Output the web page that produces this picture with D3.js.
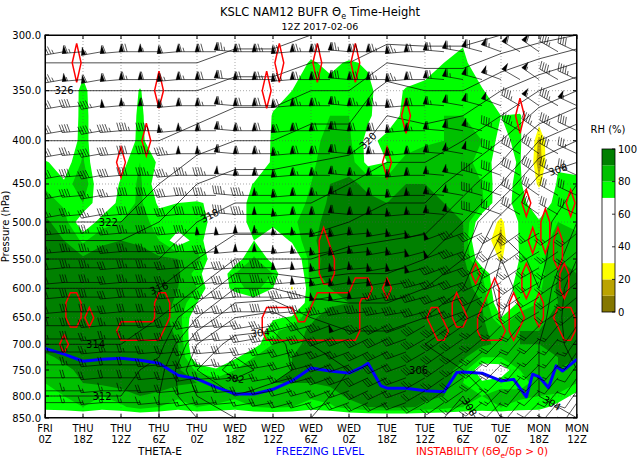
<!DOCTYPE html>
<html>
<head>
<meta charset="utf-8">
<script src="https://cdn.jsdelivr.net/npm/d3@7"></script>
<style>
  body { margin: 0; background: #fff; }
  svg text { font-family: "DejaVu Sans", sans-serif; }
</style>
</head>
<body>
<svg id="drawing_region"></svg>
<script>
// ---------------- data ----------------
const tickHours = [84, 78, 72, 66, 60, 54, 48, 42, 36, 30, 24, 18, 12, 6, 0];
const tickDays  = ["FRI","THU","THU","THU","THU","WED","WED","WED","WED","TUE","TUE","TUE","TUE","MON","MON"];
const tickZ     = ["0Z","18Z","12Z","6Z","0Z","18Z","12Z","6Z","0Z","18Z","12Z","6Z","0Z","18Z","12Z"];
const presTicks = [300, 350, 400, 450, 500, 550, 600, 650, 700, 750, 800, 850];
const rhTicks   = [0, 20, 40, 60, 80, 100];
const rhLevels  = [0, 10, 20, 30, 70, 80, 90, 100];

// RH (%) every 3 h (84 -> 0, left to right) and every 25 hPa (300 -> 850)
const rhRows = [
  [45,45,45,45,45,45,45,45,45,45,45,45,45,50,55,50,50,45,45,45,50,62,66,50,45,45,45,45,45],
  [45,45,62,45,45,50,45,45,45,45,45,45,50,60,72,66,72,68,55,55,60,70,75,55,45,45,45,45,45],
  [45,50,76,50,45,72,45,45,45,45,45,45,60,70,75,76,78,74,60,72,76,78,78,72,55,45,45,45,45],
  [45,45,78,50,45,76,45,45,45,45,45,45,72,76,78,80,80,72,62,74,78,80,80,78,70,72,40,50,48],
  [50,50,78,50,45,78,45,45,45,45,45,45,74,76,78,82,82,66,74,70,78,80,82,80,66,74,16,60,55],
  [72,62,82,50,65,80,68,45,45,50,45,45,75,78,78,85,86,66,70,86,86,84,82,78,62,72,12,66,64],
  [78,72,90,55,72,82,62,50,50,55,50,72,72,72,80,90,92,88,85,90,90,88,85,80,62,75,24,75,74],
  [85,78,80,60,74,82,68,70,72,66,55,80,70,75,82,92,95,92,90,92,92,90,88,82,60,78,55,78,76],
  [92,85,60,75,80,85,75,78,80,62,55,80,74,78,85,95,95,95,92,95,95,92,90,60,22,75,72,80,78],
  [95,90,78,88,90,88,80,62,75,60,55,70,60,72,88,95,96,96,95,95,95,95,92,45,14,75,74,85,82],
  [95,95,92,95,95,95,92,90,85,58,62,82,65,55,85,95,96,96,96,96,96,95,93,58,26,72,76,90,88],
  [95,96,95,95,95,95,95,92,75,55,80,85,80,45,85,96,96,96,96,96,96,96,94,80,55,74,76,90,90],
  [95,95,95,95,95,96,95,90,80,58,75,85,70,27,85,90,90,96,96,96,96,96,95,85,55,80,78,92,90],
  [95,95,95,95,95,95,95,88,70,55,55,60,65,50,80,88,90,96,96,96,96,96,95,90,58,72,80,90,90],
  [95,95,95,95,95,95,95,85,60,50,45,50,68,72,88,95,96,96,96,96,96,96,95,92,70,85,88,92,92],
  [95,95,95,95,95,95,95,88,55,45,45,55,78,85,92,96,96,96,96,96,96,96,95,92,85,90,90,92,92],
  [94,95,95,95,95,95,95,90,55,45,50,65,80,88,92,96,96,96,96,96,96,96,95,92,88,90,90,92,92],
  [88,92,95,95,95,95,94,92,60,55,68,80,85,90,92,95,96,96,96,96,96,96,92,80,80,88,88,90,90],
  [85,88,92,95,95,95,94,92,78,72,80,85,88,90,92,95,96,96,96,96,96,95,85,60,62,80,85,90,88],
  [80,85,90,92,94,95,94,92,90,85,85,88,90,90,90,92,95,96,96,96,95,94,80,72,76,78,82,88,80],
  [78,80,85,80,85,90,88,82,88,85,82,85,88,88,82,85,92,95,95,95,92,90,82,80,85,82,80,78,65],
  [75,76,80,75,78,85,80,75,80,78,75,80,82,80,75,78,85,90,92,92,88,85,80,78,80,76,75,65,60],
  [55,55,55,55,55,55,55,55,55,55,55,55,55,55,55,55,55,55,55,55,55,55,55,55,55,55,55,55,55]
];

// theta-e (K) every 6 h (84 -> 0) and every 50 hPa (300 -> 850)
const thetaRows = [
  [330,330,330,330,330,329,329,328,328,327,327,327,326,325,324],
  [326,326,326,326,326,325,325,324,324,321,322,322,320,318,316],
  [324,324,324,324,323,322,322,321,321,319,319,318,316,312,310],
  [323,323,323,322,320,319,319,319,318,317,317,315,312,307,306],
  [322,322,322,320,318,317,317,317,316,315,315,312,307,307,304],
  [318,318,318,318,316,314,314,314,313,313,312,310,304,307,302],
  [316,316,316,316,314,310,310,311,311,311,310,308,303,306,300],
  [315,315,315,314,310,306,305,308,309,309,308,306,304,305,300],
  [314,314,314,313,306,303,303,306,307,307,306,305,304,304,301],
  [313,313,313,311,304,301,303,305,306,306,306,306,304,304,302],
  [312,312,312,310,306,304,305,305,307,307,306,308,305,304,303],
  [311,311,311,310,308,306,306,306,308,308,307,309,306,305,304]
];

// freezing level (hour, hPa)
const fzHours = [84,81,78,75,72,69,66,63,60,57,54,51,48,45,42,40,39,36,34,33,31,30,27,24,21,19,18,15,12,10,8,7,6,4.5,3.3,2.3,0];
const fzPres  = [708,719,733,729,727,731,737,760,767,783,796,796,787,771,746,750,752,756,745,737,780,785,785,790,792,755,754,756,771,768,802,758,763,784,742,752,729];

// grid points (hour, hPa) where d(theta-e)/dp > 0
const instPoints = [
  [79,325],[66,350],[68,400],[72,425],[47,325],[49,350],[41,325],[35,325],[27,375],[30,425],[9,375],
  [8,475],[1,475],[7,525],[5,500],[5,525],[3,525],[3,550],[2,575],[2,600],[8,575],[8,600],[6,625],[6,650],[16,575],
  [80,625],[80,650],[79,625],[79,650],[81,700],[77,650],
  [66,625],[65,625],[66,650],[65,650],[72,675],[71,675],[70,675],[69,675],[68,675],[67,675],[66,675],
  [49,650],[49,675],[48,650],[48,675],[47,650],[47,675],[46,650],[46,675],[45,650],[45,675],
  [44,675],[43,675],[42,650],[42,675],[41,650],[41,675],[40,650],[40,675],[39,650],[39,675],
  [38,650],[38,675],[37,650],[37,675],[36,650],[36,675],[35,650],[35,675],
  [41,625],[40,625],[39,625],[38,625],[37,625],[36,625],[35,625],[35,600],[34,600],
  [40,525],[40,550],[39,550],[40,575],[39,575],
  [33,600],[30,600],
  [23,650],[22,650],[22,675],[21,675],
  [19,625],[19,650],[18,650],
  [13,600],[13,625],[14,625],[15,650],[14,650],[13,650],[15,675],[14,675],[13,675],[12,675],
  [10,625],[10,650],[9,650],[10,675],
  [3,650],[2,650],[1,650],[2,675],[1,675]
];

// winds: levels (hPa) x every 3 h (84 -> 0), speed in kt
const windLevels = [315,340,365,390,415,440,465,490,515,540,565,590,615,640,665,690,715,740,765,790,815];
const windSpeed = [
  [40,45,65,55,60,70,55,60,65,70,75,70,75,70,75,80,75,80,75,75,70,70,65,70,65,60,60,45,40],
  [40,45,55,60,60,65,60,65,65,70,70,70,75,75,75,80,80,80,75,75,70,70,65,60,55,50,55,45,45],
  [40,40,40,45,50,55,60,60,60,65,65,70,70,70,75,75,75,75,75,70,70,65,60,60,50,45,55,45,55],
  [40,40,40,45,45,45,45,55,55,60,65,65,70,70,70,70,70,70,70,65,65,60,60,55,45,45,45,45,40],
  [40,40,35,40,40,40,45,45,50,55,60,60,65,65,70,70,70,65,65,65,60,60,55,50,45,40,40,40,35],
  [40,40,40,40,40,40,45,45,45,45,50,55,60,60,65,65,65,65,60,60,60,55,55,45,40,40,40,35,35],
  [40,35,40,35,35,40,40,40,45,45,45,45,55,60,60,65,65,60,60,60,55,55,55,45,40,35,35,30,30],
  [40,35,35,35,35,40,40,40,40,45,45,45,50,55,60,60,60,60,60,55,55,55,50,40,35,35,30,30,30],
  [35,35,35,35,35,35,40,40,45,50,50,50,55,55,55,60,60,60,55,55,55,50,45,40,35,30,30,25,25],
  [35,35,35,35,35,35,35,40,40,45,50,50,50,55,55,55,60,55,55,55,50,50,45,35,30,30,25,25,25],
  [35,30,35,35,30,35,35,35,40,40,45,45,45,50,50,55,55,55,55,50,50,45,40,35,30,25,25,25,20],
  [30,30,30,35,30,35,35,35,35,40,40,40,45,45,50,55,55,50,55,50,45,45,40,30,30,25,25,20,20],
  [30,30,30,30,30,30,35,35,35,35,40,40,40,45,45,50,50,50,45,45,45,40,35,30,25,25,20,20,20],
  [30,30,30,30,30,30,30,30,35,35,35,35,40,40,45,45,45,45,45,45,40,40,35,30,25,20,20,20,15],
  [30,30,30,30,25,30,30,30,30,30,35,35,35,40,40,45,50,45,45,40,40,35,30,25,25,20,20,15,15],
  [30,25,30,25,25,25,30,30,30,30,30,30,35,35,40,40,40,40,40,40,35,35,30,25,20,20,20,15,15],
  [25,25,25,25,25,25,25,25,25,25,30,30,30,30,35,35,35,35,35,35,30,30,25,25,20,20,15,15,15],
  [25,25,25,25,20,20,25,25,25,25,25,25,30,30,30,30,30,30,30,30,30,25,25,20,20,15,15,15,10],
  [20,20,20,20,20,20,20,20,20,20,25,25,25,25,25,30,30,30,30,25,25,25,20,20,15,15,15,10,10],
  [20,20,15,15,15,15,20,20,20,20,20,20,20,20,25,25,25,25,25,25,20,20,20,15,15,15,10,10,10],
  [15,15,15,15,15,15,15,15,15,15,15,15,20,20,20,20,20,20,20,20,20,15,15,15,10,10,10,10,10]
];
// wind direction (deg) for upper (<=490), middle (515-640) and low (>=665) levels
const windDirUpper = [255,260,265,260,265,270,270,265,270,270,275,270,270,265,270,270,275,270,270,265,270,275,280,285,290,300,305,300,295];
const windDirMid   = [265,265,270,270,265,270,270,265,270,265,265,270,270,265,265,260,260,265,260,260,255,250,250,245,240,235,240,235,230];
const windDirLow   = [265,270,270,265,270,270,265,265,260,265,265,260,260,255,255,250,250,245,245,250,240,235,235,230,225,220,225,220,215];

// ---------------- layout ----------------
const config = {
  parent: '#drawing_region',
  width: 640, height: 465,
  margin: {top: 35, left: 45},
  inner_width: 532, inner_height: 383,
  // pressure axis follows model levels: fraction of plot height at each pressure tick
  yFrac: [0, 0.1454, 0.2760, 0.3890, 0.4883, 0.5849, 0.6614, 0.7381, 0.8076, 0.8747, 0.9426, 1],
  rhColors: ["#857700", "#bba300", "#ffff00", "#ffffff", "#00ff00", "#00c000", "#008000"],
  thetaLabels: [
    {h:81, p:345, v:326}, {h:74, p:500, v:322}, {h:58, p:470, v:318}, {h:66, p:580, v:316},
    {h:76, p:680, v:314}, {h:75, p:805, v:312}, {h:54, p:750, v:302}, {h:50, p:700, v:304},
    {h:33, p:370, v:320}, {h:25, p:700, v:306}, {h:17, p:800, v:308}, {h:4, p:800, v:304},
    {h:3, p:480, v:308}, {h:1, p:600, v:300}
  ]
};

const W = config.inner_width, H = config.inner_height;
const svg = d3.select(config.parent).attr('width', config.width).attr('height', config.height);
svg.append('rect').attr('width', config.width).attr('height', config.height).attr('fill', '#fff');

const xscale = d3.scaleLinear().domain([84, 0]).range([0, W]);
const yscale = d3.scaleLinear().domain(presTicks).range(config.yFrac.map(f => f * H));
const rhColor = d3.scaleThreshold().domain([10, 20, 30, 70, 80, 90]).range(config.rhColors);

svg.append('defs').append('clipPath').attr('id', 'plotclip')
  .append('rect').attr('width', W).attr('height', H);

const chart = svg.append('g')
  .attr('transform', `translate(${config.margin.left}, ${config.margin.top})`);
const plot = chart.append('g').attr('clip-path', 'url(#plotclip)');

// geo path that maps d3.contours grid coordinates onto the time / pressure scales
function gridPath(nx, ny, hourOf, presOf) {
  return d3.geoPath(d3.geoTransform({
    point: function(x, y) {
      const gx = Math.max(0, Math.min(nx - 1, x - 0.5));
      const gy = Math.max(0, Math.min(ny - 1, y - 0.5));
      this.stream.point(xscale(hourOf(gx)), yscale(presOf(gy)));
    }
  }));
}

// ---- RH filled contours ----
const rhVals = rhRows.flat();
const rhGen = d3.contours().size([29, 23]);
const rhPath = gridPath(29, 23, g => 84 - 3 * g, g => 300 + 25 * g);
[70, 80, 90].forEach(t => {
  plot.append('path').attr('d', rhPath(rhGen.contour(rhVals, t))).attr('fill', rhColor(t + 1));
});
const dryVals = rhVals.map(v => -v);
[30, 20, 10].forEach(t => {
  plot.append('path').attr('d', rhPath(rhGen.contour(dryVals, -t))).attr('fill', rhColor(t - 1));
});

// ---- dotted grid ----
plot.selectAll('.vgrid').data(tickHours).enter().append('line')
  .attr('x1', d => xscale(d)).attr('x2', d => xscale(d)).attr('y1', 0).attr('y2', H)
  .attr('stroke', '#555').attr('stroke-width', 0.5).attr('stroke-dasharray', '1,2');
plot.selectAll('.hgrid').data(presTicks).enter().append('line')
  .attr('y1', d => yscale(d)).attr('y2', d => yscale(d)).attr('x1', 0).attr('x2', W)
  .attr('stroke', '#555').attr('stroke-width', 0.5).attr('stroke-dasharray', '1,2');

// ---- theta-e contour lines ----
const thVals = thetaRows.flat();
const thGen = d3.contours().size([15, 12]);
const thPath = gridPath(15, 12, g => 84 - 6 * g, g => 300 + 50 * g);
d3.range(296, 342, 2).forEach(t => {
  plot.append('path').attr('d', thPath(thGen.contour(thVals, t)))
    .attr('fill', 'none').attr('stroke', '#000').attr('stroke-width', 0.7);
});

// ---- instability contours ----
const instGrid = new Array(85 * 23).fill(0);
instPoints.forEach(([h, p]) => { instGrid[((p - 300) / 25) * 85 + (84 - h)] = 1; });
const instPath = gridPath(85, 23, g => 84 - g, g => 300 + 25 * g);
plot.append('path').attr('d', instPath(d3.contours().size([85, 23]).contour(instGrid, 0.3)))
  .attr('fill', 'none').attr('stroke', '#ff0000').attr('stroke-width', 1.5);

// ---- freezing level ----
const fzLine = d3.line().x(d => xscale(d[0])).y(d => yscale(d[1]));
plot.append('path').datum(d3.zip(fzHours, fzPres)).attr('d', fzLine)
  .attr('fill', 'none').attr('stroke', '#0000ff').attr('stroke-width', 3).attr('stroke-linejoin', 'round');

// ---- wind barbs ----
const barb = {len: 21, height: 8, flag: 4.5, space: 2.6};
const barbLines = d3.path(), barbFlags = d3.path();
function addBarb(x0, y0, speed, dir) {
  const r = dir * Math.PI / 180;
  const sx = Math.sin(r), sy = -Math.cos(r);   // toward where the wind comes from
  const fx = Math.cos(r), fy = Math.sin(r);    // feather side
  const tx = x0 + sx * barb.len, ty = y0 + sy * barb.len;
  barbLines.moveTo(x0, y0); barbLines.lineTo(tx, ty);
  let s = Math.round(speed / 5) * 5;
  const nFlag = Math.floor(s / 50); s -= nFlag * 50;
  const nFull = Math.floor(s / 10); s -= nFull * 10;
  const half = s >= 5;
  let off = 0;
  for (let k = 0; k < nFlag; k++) {
    const ax = tx - sx * off, ay = ty - sy * off;
    barbFlags.moveTo(ax, ay);
    barbFlags.lineTo(ax - sx * barb.flag / 2 + fx * barb.height, ay - sy * barb.flag / 2 + fy * barb.height);
    barbFlags.lineTo(ax - sx * barb.flag, ay - sy * barb.flag);
    barbFlags.closePath();
    off += barb.flag + barb.space * 0.4;
  }
  for (let k = 0; k < nFull; k++) {
    const ax = tx - sx * off, ay = ty - sy * off;
    barbLines.moveTo(ax, ay);
    barbLines.lineTo(ax + fx * barb.height + sx * barb.flag / 2, ay + fy * barb.height + sy * barb.flag / 2);
    off += barb.space;
  }
  if (half) {
    if (nFlag === 0 && nFull === 0) off = barb.space * 1.5;
    const ax = tx - sx * off, ay = ty - sy * off;
    barbLines.moveTo(ax, ay);
    barbLines.lineTo(ax + fx * barb.height / 2 + sx * barb.flag / 4, ay + fy * barb.height / 2 + sy * barb.flag / 4);
  }
}
windLevels.forEach((p, k) => {
  const dirs = p <= 490 ? windDirUpper : (p <= 640 ? windDirMid : windDirLow);
  windSpeed[k].forEach((spd, i) => addBarb(xscale(84 - 3 * i), yscale(p), spd, dirs[i]));
});
plot.append('path').attr('d', barbLines.toString()).attr('fill', 'none')
  .attr('stroke', '#000').attr('stroke-width', 0.65);
plot.append('path').attr('d', barbFlags.toString()).attr('fill', '#000')
  .attr('stroke', '#000').attr('stroke-width', 0.3);

// ---- theta-e contour labels ----
function thetaAt(h, p) {
  const gx = Math.max(0, Math.min(14, (84 - h) / 6));
  const gy = Math.max(0, Math.min(11, (p - 300) / 50));
  const i0 = Math.min(13, Math.floor(gx)), j0 = Math.min(10, Math.floor(gy));
  const ax = gx - i0, ay = gy - j0;
  const v = (i, j) => thetaRows[j][i];
  return (1 - ax) * (1 - ay) * v(i0, j0) + ax * (1 - ay) * v(i0 + 1, j0)
       + (1 - ax) * ay * v(i0, j0 + 1) + ax * ay * v(i0 + 1, j0 + 1);
}
config.thetaLabels.forEach(l => {
  let best = null;
  for (let p = Math.max(300, l.p - 100); p < Math.min(850, l.p + 100); p += 1) {
    const a = thetaAt(l.h, p) - l.v, b = thetaAt(l.h, p + 1) - l.v;
    if (a === 0 || a * b < 0) {
      const pc = p + (a === 0 ? 0 : a / (a - b));
      if (best === null || Math.abs(pc - l.p) < Math.abs(best - l.p)) best = pc;
    }
  }
  if (best === null) return;
  const x = xscale(l.h), y = yscale(best);
  const gxp = thetaAt(xscale.invert(x + 2), best) - thetaAt(xscale.invert(x - 2), best);
  const gyp = thetaAt(l.h, yscale.invert(y + 2)) - thetaAt(l.h, yscale.invert(y - 2));
  let ang = Math.atan2(gxp, -gyp) * 180 / Math.PI;
  if (ang > 90) ang -= 180;
  if (ang < -90) ang += 180;
  plot.append('text').attr('transform', `translate(${x},${y}) rotate(${ang})`)
    .attr('text-anchor', 'middle').attr('dy', '0.35em').attr('font-size', '10px')
    .attr('fill', '#000').text(l.v);
});

// ---- frame, ticks, labels ----
chart.append('rect').attr('width', W).attr('height', H)
  .attr('fill', 'none').attr('stroke', '#000').attr('stroke-width', 1);
chart.selectAll('.xt').data(tickHours).enter().append('path')
  .attr('d', d => `M${xscale(d)},${H}v-4M${xscale(d)},0v4`).attr('stroke', '#000');
chart.selectAll('.yt').data(presTicks).enter().append('path')
  .attr('d', d => `M0,${yscale(d)}h4M${W},${yscale(d)}h-4`).attr('stroke', '#000');

const xl = chart.selectAll('.xl').data(tickHours).enter().append('text')
  .attr('text-anchor', 'middle').attr('font-size', '10px').attr('fill', '#000');
xl.append('tspan').attr('x', d => xscale(d)).attr('y', H + 14).text((d, i) => tickDays[i]);
xl.append('tspan').attr('x', d => xscale(d)).attr('y', H + 25).text((d, i) => tickZ[i]);

chart.selectAll('.yl').data(presTicks).enter().append('text')
  .attr('x', -4).attr('y', d => yscale(d)).attr('dy', '0.35em')
  .attr('text-anchor', 'end').attr('font-size', '10px').attr('fill', '#000')
  .text(d => d3.format('.1f')(d));

chart.append('text').attr('transform', `translate(-36, ${H / 2}) rotate(-90)`)
  .attr('text-anchor', 'middle').attr('font-size', '10px').text('Pressure (hPa)');

// title
const tt = svg.append('text').attr('x', 320).attr('y', 16).attr('text-anchor', 'middle').attr('font-size', '11.5px');
tt.append('tspan').text('KSLC NAM12 BUFR \u0398');
tt.append('tspan').attr('font-size', '8px').attr('dy', 3).text('e');
tt.append('tspan').attr('dy', -3).text(' Time-Height');
svg.append('text').attr('x', 320).attr('y', 30).attr('text-anchor', 'middle')
  .attr('font-size', '9.5px').text('12Z 2017-02-06');

// bottom legend
const legY = 455;
svg.append('text').attr('x', 160).attr('y', legY).attr('text-anchor', 'middle')
  .attr('font-size', '10.5px').attr('fill', '#000').text('THETA-E');
svg.append('text').attr('x', 320).attr('y', legY).attr('text-anchor', 'middle')
  .attr('font-size', '10.5px').attr('fill', '#0000ff').text('FREEZING LEVEL');
const inst = svg.append('text').attr('x', 482).attr('y', legY).attr('text-anchor', 'middle')
  .attr('font-size', '10.5px').attr('fill', '#ff0000');
inst.append('tspan').text('INSTABILITY (\u03b4\u0398');
inst.append('tspan').attr('font-size', '7.5px').attr('dy', 3).text('e');
inst.append('tspan').attr('dy', -3).text('/\u03b4p > 0)');

// ---- colorbar ----
const cb = {x: 602, w: 13, top: 149, bottom: 312};
const cscale = d3.scaleLinear().domain([0, 100]).range([cb.bottom, cb.top]);
const bands = d3.pairs(rhLevels);
svg.selectAll('.cbband').data(bands).enter().append('rect')
  .attr('x', cb.x).attr('width', cb.w)
  .attr('y', d => cscale(d[1])).attr('height', d => cscale(d[0]) - cscale(d[1]))
  .attr('fill', d => rhColor((d[0] + d[1]) / 2));
svg.append('rect').attr('x', cb.x).attr('y', cb.top).attr('width', cb.w).attr('height', cb.bottom - cb.top)
  .attr('fill', 'none').attr('stroke', '#000').attr('stroke-width', 0.8);
svg.selectAll('.cbt').data(rhTicks).enter().append('path')
  .attr('d', d => `M${cb.x + cb.w},${cscale(d)}h-3`).attr('stroke', '#000').attr('stroke-width', 0.8);
svg.selectAll('.cbl').data(rhTicks).enter().append('text')
  .attr('x', cb.x + cb.w + 3).attr('y', d => cscale(d)).attr('dy', '0.35em')
  .attr('font-size', '10px').text(d => d);
svg.append('text').attr('x', 608).attr('y', 133).attr('text-anchor', 'middle')
  .attr('font-size', '10px').text('RH (%)');
</script>
</body>
</html>
